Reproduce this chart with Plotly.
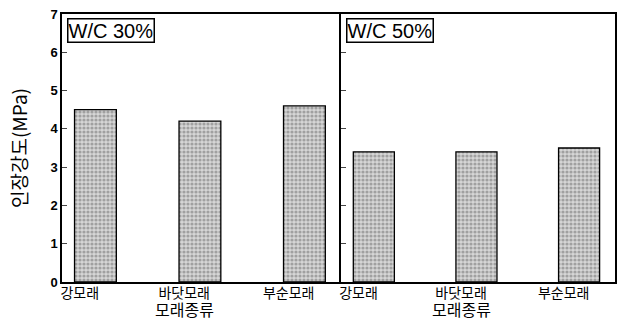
import plotly.graph_objects as go
from plotly.subplots import make_subplots

categories = ["강모래", "바닷모래", "부순모래"]
wc30_values = [4.5, 4.2, 4.6]
wc50_values = [3.4, 3.4, 3.5]
panel_labels = ["W/C 30%", "W/C 50%"]
y_ticks = [0, 1, 2, 3, 4, 5, 6, 7]
y_title = "인장강도(MPa)"
x_title = "모래종류"

FONT = "Arial, Liberation Sans, Noto Sans CJK KR"
KFONT = "Noto Sans CJK KR, Arial"

fig = make_subplots(rows=1, cols=2, shared_yaxes=True, horizontal_spacing=0)

for i, vals in enumerate([wc30_values, wc50_values]):
    fig.add_trace(go.Bar(
        x=categories, y=vals, width=0.4, offset=-0.05,
        marker=dict(color="#cfcfcf",
                    line=dict(color="black", width=1.3),
                    pattern=dict(shape=".", fgcolor="#6a6a6a", bgcolor="#d6d6d6",
                                 size=4, solidity=0.5)),
        showlegend=False,
    ), row=1, col=i + 1)

dom1 = [0, 280 / 555]
dom2 = [280 / 555, 1]
common_x = dict(type="category", range=[-0.17, 2.5], showline=True, linecolor="black",
                linewidth=1.5, mirror=True, ticks="", showgrid=False, zeroline=False,
                ticklabelstandoff=-3,
                tickfont=dict(family=KFONT, size=14, color="black"))
fig.update_layout(
    xaxis=dict(domain=dom1, **common_x),
    xaxis2=dict(domain=dom2, **common_x),
    yaxis=dict(range=[0, 7], tickvals=y_ticks, ticks="inside", ticklen=5, tickwidth=1,
               showline=True, linecolor="black", linewidth=1.5, mirror=False,
               showgrid=False, zeroline=False,
               tickfont=dict(family=FONT, size=13, color="black", weight="bold"),
               title=dict(text=y_title, font=dict(family=KFONT, size=19, color="black"),
                          standoff=18)),
    yaxis2=dict(range=[0, 7], tickvals=y_ticks, ticks="inside", ticklen=5, tickwidth=1,
                showline=True, linecolor="black", linewidth=1.5, mirror=True,
                showticklabels=False, showgrid=False, zeroline=False),
    width=623, height=320,
    margin=dict(l=62, r=6, t=14, b=38),
    plot_bgcolor="white", paper_bgcolor="white",
    bargap=0.6,
)

for i, lab in enumerate(panel_labels):
    xr = "x domain" if i == 0 else "x2 domain"
    fig.add_annotation(text=lab, xref=xr, yref="paper", x=0.018, y=0.985,
                       xanchor="left", yanchor="top", showarrow=False,
                       font=dict(family=FONT, size=20, color="black"),
                       bordercolor="black", borderwidth=1.5, borderpad=0,
                       bgcolor="white")
    xa = "x" if i == 0 else "x2"
    fig.add_annotation(text=x_title, xref=xa, yref="paper", x=categories[1], y=-27 / 268,
                       xanchor="center", yanchor="middle", showarrow=False,
                       font=dict(family=KFONT, size=16, color="black"))

fig.write_html("out.html", post_script="document.body.style.margin='0';",
               config={"displayModeBar": False})
